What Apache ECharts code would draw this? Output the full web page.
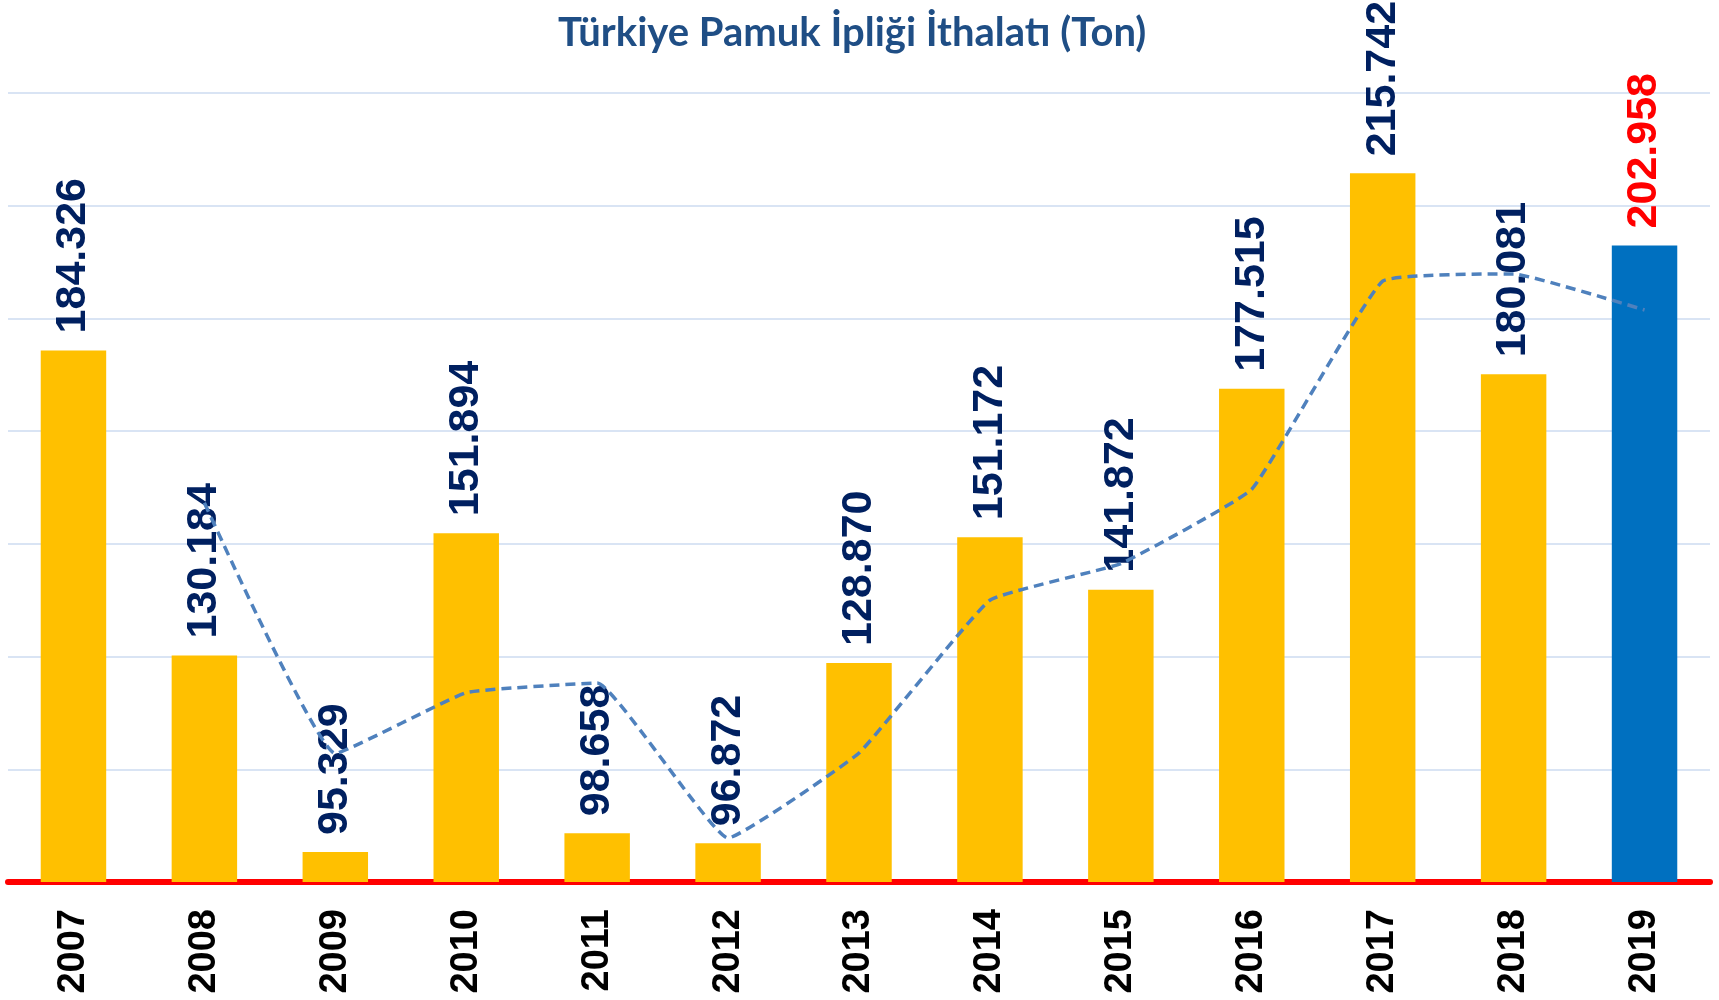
<!DOCTYPE html>
<html>
<head>
<meta charset="utf-8">
<title>Türkiye Pamuk İpliği İthalatı</title>
<script src="https://cdn.jsdelivr.net/npm/echarts@6/dist/echarts.min.js"></script>
<style>
    html, body { margin: 0; padding: 0; background: #fff; }
    #chart { width: 1719px; height: 1000px; }
</style>
</head>
<body>
<div id="chart"></div>
<script>
// yillar ve ithalat (ton)
const years = ['2007', '2008', '2009', '2010', '2011', '2012', '2013', '2014', '2015', '2016', '2017', '2018', '2019'];
const imports = [184326, 130184, 95329, 151894, 98658, 96872, 128870, 151172, 141872, 177515, 215742, 180081, 202958];
// kesikli trend cizgisi (2 donemlik hareketli ortalama)
const trend = [null, 157300, 112800, 123600, 125300, 97800, 112900, 140000, 146500, 159700, 196600, 197900, 191500];

const fmt = (v) => String(v).replace(/\B(?=(\d{3})+(?!\d))/g, '.');

const chart = echarts.init(document.getElementById('chart'));

const barData = imports.map((v, i) => {
    const last = i === imports.length - 1;
    return {
        value: v,
        itemStyle: { color: last ? '#0070C0' : '#FFC000' },
        label: { color: last ? '#FF0000' : '#002060' }
    };
});

const option = {
    animation: false,
    title: {
        text: 'Türkiye Pamuk İpliği İthalatı (Ton)',
        left: 553,
        top: 8,
        textStyle: {
            color: '#1F4E85',
            fontFamily: 'Lato',
            fontWeight: 'bold',
            fontSize: 40
        }
    },
    grid: {
        left: 8,
        right: 9,
        top: 93,
        bottom: 118,
        containLabel: false,
        outerBoundsMode: 'none'
    },
    xAxis: {
        type: 'category',
        data: years,
        axisTick: { show: false },
        axisLine: {
            lineStyle: { color: '#FF0000', width: 6 }
        },
        axisLabel: {
            rotate: 90,
            margin: 27,
            color: '#000',
            fontFamily: 'Liberation Sans',
            fontWeight: 'bold',
            fontSize: 38
        }
    },
    yAxis: {
        type: 'value',
        min: 90000,
        max: 230000,
        interval: 20000,
        axisLabel: { show: false },
        axisLine: { show: false },
        axisTick: { show: false },
        splitLine: {
            lineStyle: { color: '#D9E4F4', width: 2 }
        }
    },
    series: [
        {
            type: 'bar',
            data: barData,
            barWidth: '50%',
            label: {
                show: true,
                position: 'top',
                distance: 17,
                rotate: 90,
                align: 'left',
                verticalAlign: 'middle',
                fontFamily: 'Liberation Sans',
                fontWeight: 'bold',
                fontSize: 43,
                formatter: (p) => fmt(p.value)
            }
        },
        {
            type: 'line',
            data: trend,
            symbol: 'none',
            smooth: 0.1,
            z: 5,
            lineStyle: {
                color: '#4F81BD',
                width: 3.5,
                type: [10, 6]
            }
        }
    ]
};

chart.setOption(option);
</script>
</body>
</html>
